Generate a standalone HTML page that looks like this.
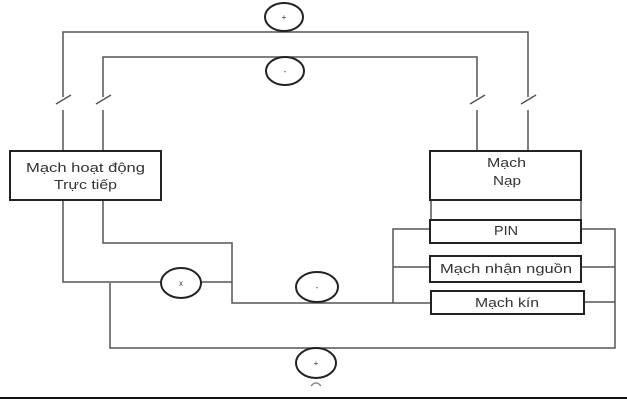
<!DOCTYPE html>
<html><head><meta charset="utf-8"><style>
html,body{margin:0;padding:0;background:#fff;width:627px;height:400px;overflow:hidden}
svg{display:block}
text{font-family:"Liberation Sans","DejaVu Sans",sans-serif;fill:#333}
</style></head><body>
<svg width="627" height="400" viewBox="0 0 627 400" xmlns="http://www.w3.org/2000/svg">
<g stroke="#555" stroke-width="1.5" fill="none">
<polyline points="63,97 63,32 528,32 528,97"/>
<polyline points="103,97 103,57 477,57 477,97"/>
<line x1="56" y1="104" x2="71" y2="95"/>
<line x1="96" y1="104" x2="111" y2="95"/>
<line x1="470" y1="104" x2="485" y2="95"/>
<line x1="521" y1="104" x2="536" y2="95"/>
<line x1="63" y1="110" x2="63" y2="151"/>
<line x1="103" y1="110" x2="103" y2="151"/>
<line x1="477" y1="110" x2="477" y2="151"/>
<line x1="528" y1="110" x2="528" y2="151"/>
<polyline points="63,200 63,282 161,282"/>
<polyline points="201,282 232,282"/>
<polyline points="103,200 103,243 232,243 232,303 431,303"/>
<polyline points="110,283 110,348 615,348 615,229 581,229"/>
<line x1="581" y1="267" x2="615" y2="267"/>
<line x1="584" y1="302" x2="615" y2="302"/>
<polyline points="430,229 393,229 393,303"/>
<line x1="393" y1="267" x2="430" y2="267"/>
<line x1="431" y1="200" x2="431" y2="220"/>
<line x1="581" y1="200" x2="581" y2="220"/>
</g>
<g stroke="#222" stroke-width="2" fill="#fff">
<rect x="10" y="151" width="151" height="49"/>
<rect x="430" y="151" width="151" height="49"/>
<rect x="430" y="220" width="151" height="23"/>
<rect x="430" y="256" width="151" height="26"/>
<rect x="431" y="291" width="153" height="23"/>
<ellipse cx="284" cy="17" rx="19" ry="14"/>
<ellipse cx="285" cy="71" rx="19" ry="14"/>
<ellipse cx="181" cy="283" rx="20" ry="15"/>
<ellipse cx="317" cy="287" rx="21" ry="15"/>
<ellipse cx="316" cy="363" rx="20" ry="15"/>
</g>
<g font-size="8" text-anchor="middle">
<text x="284" y="20">+</text>
<text x="285" y="74">-</text>
<text x="181" y="286">x</text>
<text x="317" y="290">-</text>
<text x="316" y="366">+</text>
</g>
<g font-size="13">
<text x="26" y="172" textLength="119" lengthAdjust="spacingAndGlyphs">Mạch hoạt động</text>
<text x="54" y="189" textLength="63" lengthAdjust="spacingAndGlyphs">Trực tiếp</text>
<text x="487" y="167" textLength="39" lengthAdjust="spacingAndGlyphs">Mạch</text>
<text x="493" y="185" textLength="28" lengthAdjust="spacingAndGlyphs">Nạp</text>
<text x="494" y="235" textLength="24" lengthAdjust="spacingAndGlyphs">PIN</text>
<text x="440" y="273" textLength="132" lengthAdjust="spacingAndGlyphs">Mạch nhận nguồn</text>
<text x="475" y="307" textLength="64" lengthAdjust="spacingAndGlyphs">Mạch kín</text>
</g>
<path d="M311,386 Q316,380 321,386" stroke="#888" stroke-width="1.5" fill="none"/>
<line x1="0" y1="398" x2="627" y2="398" stroke="#111" stroke-width="2"/>
</svg>
</body></html>
